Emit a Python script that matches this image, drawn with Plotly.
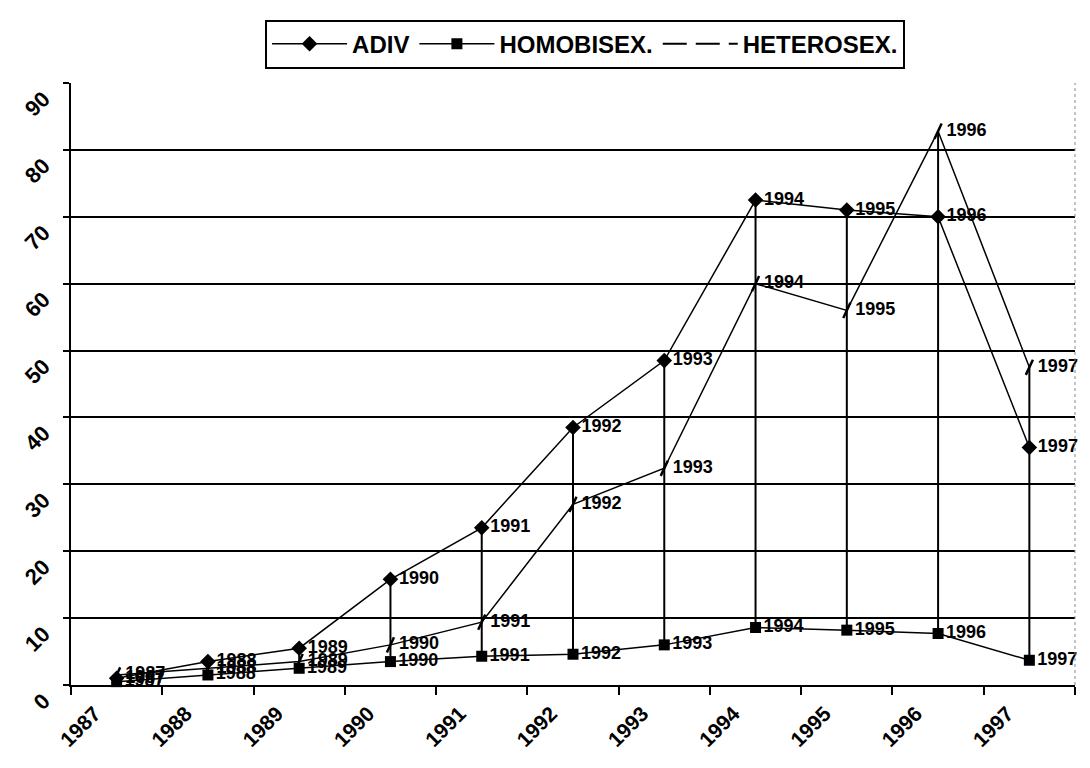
import plotly.graph_objects as go

years = ["1987", "1988", "1989", "1990", "1991", "1992", "1993", "1994", "1995", "1996", "1997"]
adiv = [1.0, 3.5, 5.5, 15.8, 23.5, 38.5, 48.5, 72.5, 71.0, 70.0, 35.5]
homobisex = [0.5, 1.5, 2.5, 3.5, 4.3, 4.6, 6.0, 8.6, 8.2, 7.7, 3.7]
heterosex = [1.5, 2.5, 3.5, 6.0, 9.4, 27.0, 32.4, 60.0, 56.0, 82.8, 47.5]
y_ticks = [0, 10, 20, 30, 40, 50, 60, 70, 80, 90]

FONT = "Liberation Sans, Arial, sans-serif"
lbl_font = dict(family=FONT, size=18, color="black", weight="bold")

fig = go.Figure()

# high-low lines
hl_x, hl_y = [], []
for i, yr in enumerate(years):
    vals = [adiv[i], homobisex[i], heterosex[i]]
    hl_x += [yr, yr, None]
    hl_y += [max(vals), min(vals), None]
fig.add_trace(go.Scatter(x=hl_x, y=hl_y, mode="lines", line=dict(color="black", width=2),
                         showlegend=False, hoverinfo="skip"))

fig.add_trace(go.Scatter(x=years, y=adiv, mode="lines+markers+text", name="ADIV",
                         line=dict(color="black", width=1.5), cliponaxis=False,
                         marker=dict(symbol="diamond", size=12, color="black"),
                         text=years, textposition="middle right", textfont=lbl_font))
fig.add_trace(go.Scatter(x=years, y=homobisex, mode="lines+markers+text", name="HOMOBISEX.",
                         line=dict(color="black", width=1.5), cliponaxis=False,
                         marker=dict(symbol="square", size=11, color="black"),
                         text=years, textposition="middle right", textfont=lbl_font))
fig.add_trace(go.Scatter(x=years, y=heterosex, mode="lines+markers+text", name="HETEROSEX.",
                         line=dict(color="black", width=1.5), showlegend=False, cliponaxis=False,
                         marker=dict(symbol="line-ns", size=12, angle=25,
                                     line=dict(color="black", width=2.5)),
                         text=years, textposition="middle right", textfont=lbl_font))
# legend entry for heterosex (dashed)
fig.add_trace(go.Scatter(x=[None], y=[None], mode="lines", name="HETEROSEX.",
                         line=dict(color="black", width=2, dash="24px,9px")))

fig.update_layout(
    width=1090, height=768,
    paper_bgcolor="white", plot_bgcolor="white",
    margin=dict(l=60, r=23, t=72, b=91),
    font=dict(family=FONT, color="black"),
    showlegend=True,
    legend=dict(orientation="h", x=0.512, xanchor="center", y=1.0645, yanchor="middle",
                bordercolor="black", borderwidth=2, bgcolor="white",
                font=dict(family=FONT, size=24, color="black", weight="bold"),
                itemwidth=75, tracegroupgap=0),
    xaxis=dict(type="category", categoryorder="array", categoryarray=years,
               range=[-0.5, len(years) - 0.5], tickson="boundaries",
               showgrid=False, showline=True, linecolor="black", linewidth=2,
               ticks="outside", ticklen=8, tickwidth=1.5, tickcolor="black",
               tickangle=-45, ticklabelstandoff=6, ticklabelshift=-22,
               tickfont=dict(family=FONT, size=21, color="black", weight="bold"),
               zeroline=False),
    yaxis=dict(range=[0, 90], tickvals=y_ticks, showgrid=True, gridcolor="black", gridwidth=2,
               showline=True, linecolor="black", linewidth=2,
               ticks="outside", ticklen=6, tickwidth=1.5, tickcolor="black",
               tickangle=-45, ticklabelstandoff=15, ticklabelshift=13,
               tickfont=dict(family=FONT, size=22, color="black", weight="bold"),
               zeroline=False),
    shapes=[dict(type="line", xref="paper", yref="paper", x0=1, x1=1, y0=0, y1=1,
                 line=dict(color="#888888", width=1, dash="dot"))],
)

fig.write_html("out.html")
